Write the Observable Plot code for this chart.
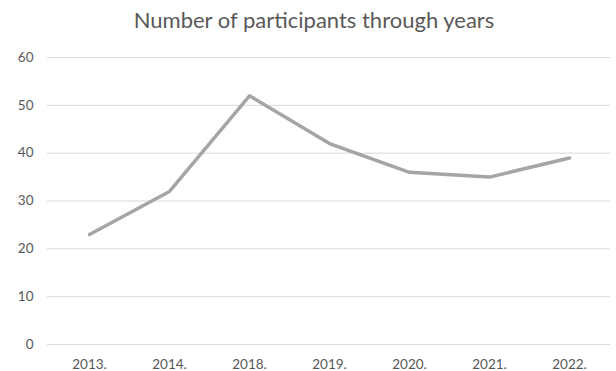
<!DOCTYPE html>
<html>
<head>
<meta charset="utf-8">
<script src="https://cdn.jsdelivr.net/npm/d3@7"></script>
<script src="https://cdn.jsdelivr.net/npm/@observablehq/plot@0.6"></script>
<style>
  html, body { margin: 0; padding: 0; background: #fff; }
  #title { height: 40px; line-height: 40px; text-align: center; font-family: Lato, sans-serif; font-size: 22px; color: #595959; width: 616px; padding-left: 12px; box-sizing: border-box; }
</style>
</head>
<body>
<div id="title">Number of participants through years</div>
<div id="chart"></div>
<script>
const years = ["2013.", "2014.", "2018.", "2019.", "2020.", "2021.", "2022."];
const participants = [23, 32, 52, 42, 36, 35, 39];
const yTicks = [0, 10, 20, 30, 40, 50, 60];

const data = years.map((y, i) => ({year: y, value: participants[i]}));

const chart = Plot.plot({
  width: 616,
  height: 331,
  marginTop: 17,
  marginBottom: 27,
  marginLeft: 47,
  marginRight: 6,
  style: {fontFamily: "Lato, sans-serif", fontSize: "13.5px", color: "#595959", background: "#fff", overflow: "visible"},
  x: {type: "point", domain: years, padding: 0.5, label: null, tickSize: 0, tickPadding: 15},
  y: {domain: [0, 60], ticks: yTicks, label: null, tickSize: 0, tickPadding: 14},
  marks: [
    Plot.ruleY(yTicks, {stroke: "#d9d9d9", strokeWidth: 1}),
    Plot.line(data, {x: "year", y: "value", stroke: "#a5a5a5", strokeWidth: 3.5, strokeLinejoin: "round", strokeLinecap: "round"})
  ]
});
document.getElementById("chart").appendChild(chart);
</script>
</body>
</html>
